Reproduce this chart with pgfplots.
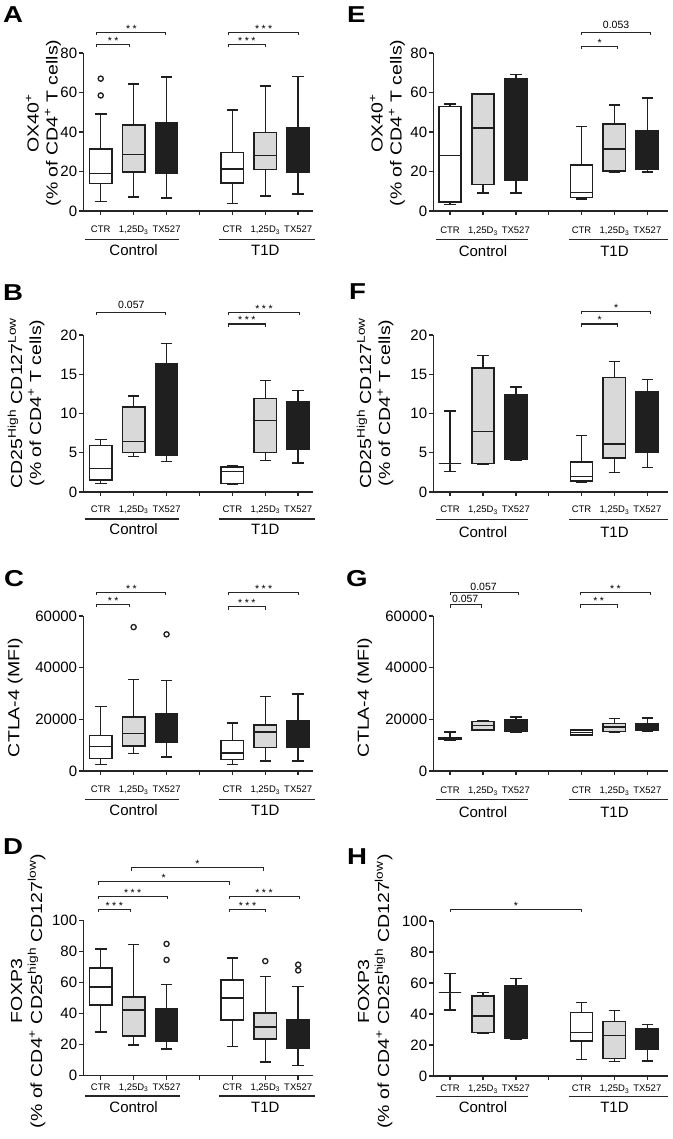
\documentclass[border=0pt]{standalone}
\usepackage{pgfplots}
\pgfplotsset{compat=1.18}
\usepgfplotslibrary{statistics}
\usepackage{fontspec}
\setmainfont{Liberation Sans}

\newcommand{\tickfont}{\fontsize{15}{15}\selectfont}
\newcommand{\catfont}{\fontsize{9.5}{10}\selectfont}
\newcommand{\grpfont}{\fontsize{15}{15}\selectfont}
\newcommand{\sigfont}{\fontsize{10.5}{10.5}\selectfont}
\newcommand{\labfont}{\fontsize{16}{19}\selectfont}
\newcommand{\letfont}{\bfseries\fontsize{23}{23}\selectfont}

\pgfplotsset{
  panel/.style={scale only axis, axis lines*=left, clip=false, enlargelimits=false,
    axis line style={line width=1.5pt, black!85},
    every tick/.style={line width=1.4pt, black!85},
    tick align=outside, major tick length=4pt,
    xtick={1,2,3,4,5,6,7}, xticklabels={,,,,,,},
    scaled y ticks=false,
    yticklabel style={font=\tickfont, inner sep=2pt},
    boxplot/draw direction=y},
  bxbase/.style={black!88, solid, line width=1.5pt, mark=o, mark size=2.6pt,
    mark options={line width=1.3pt, solid, fill=none},
    boxplot/draw direction=y,
    boxplot/box extend=0.68, boxplot/whisker extend=0.35},
  bw/.style={bxbase, boxplot/every box/.style={fill=white}},
  bg/.style={bxbase, boxplot/every box/.style={fill=gray!30}},
  bk/.style={bxbase, boxplot/every box/.style={fill=black!88}},
}
\tikzset{ylab/.style={rotate=90, font=\labfont, anchor=center, inner sep=0pt}}

% box: style, position, lower whisker, lower quartile, median, upper quartile, upper whisker, outliers
\newcommand{\bx}[8]{\addplot[#1, boxplot prepared={draw position=#2, lower whisker=#3,
  lower quartile=#4, median=#5, upper quartile=#6, upper whisker=#7}] coordinates {#8};}

% category labels: label base, underline, group base, underline extents
\newcommand{\cats}[7]{%
  \node[font=\catfont, anchor=base] at ([yshift=-#1]axis cs:1,0) {CTR};
  \node[font=\catfont, anchor=base] at ([yshift=-#1]axis cs:2,0) {1,25D\textsubscript{3}};
  \node[font=\catfont, anchor=base] at ([yshift=-#1]axis cs:3,0) {TX527};
  \node[font=\catfont, anchor=base] at ([yshift=-#1]axis cs:5,0) {CTR};
  \node[font=\catfont, anchor=base] at ([yshift=-#1]axis cs:6,0) {1,25D\textsubscript{3}};
  \node[font=\catfont, anchor=base] at ([yshift=-#1]axis cs:7,0) {TX527};
  \draw[line width=1.4pt, black!85] ([yshift=-#2]axis cs:#4,0) -- ([yshift=-#2]axis cs:#5,0);
  \draw[line width=1.4pt, black!85] ([yshift=-#2]axis cs:#6,0) -- ([yshift=-#2]axis cs:#7,0);
  \node[font=\grpfont, anchor=base] at ([yshift=-#3]axis cs:2,0) {Control};
  \node[font=\grpfont, anchor=base] at ([yshift=-#3]axis cs:6,0) {T1D};
}

% bracket: x1, x2, xmid, y, label, label shift
\newcommand{\br}[6]{%
  \draw[line width=1.1pt, black!85] ([yshift=-3pt]axis cs:#1,#4) -- (axis cs:#1,#4) -- (axis cs:#2,#4) -- ([yshift=-3pt]axis cs:#2,#4);
  \node[font=\sigfont, anchor=base, inner sep=0pt] at ([yshift=#6]axis cs:#3,#4) {#5};
}
\newcommand{\sone}{*}
\newcommand{\stwo}{*\hspace{2.5pt}*}
\newcommand{\sthree}{*\hspace{2.5pt}*\hspace{2.5pt}*}

\begin{document}
\begin{tikzpicture}
\path[use as bounding box] (0,0) rectangle (672pt,1139pt);

% ---------------- A ----------------
\begin{axis}[panel, at={(83.3pt,928pt)}, anchor=south west, width=229.7pt, height=158pt,
  xmin=0.47, xmax=7.45, ymin=0, ymax=80, ytick={0,20,40,60,80}, yticklabels={0,20,40,60,80}]
\bx{bw}{1}{4.9}{13.9}{19}{31.4}{49}{(0,67) (0,58.5)}
\bx{bg}{2}{7.1}{19.8}{28.6}{43.6}{64.2}{}
\bx{bk}{3}{6.6}{19}{30}{44.7}{67.8}{}
\bx{bw}{5}{3.7}{14.2}{21.2}{29.5}{51.2}{}
\bx{bg}{6}{7.6}{21}{28}{39.7}{63.4}{}
\bx{bk}{7}{8.6}{19.8}{30}{41.9}{68.1}{}
\cats{22pt}{28.6pt}{44.7pt}{0.52}{3.38}{4.6}{7.5}
\br{0.88}{2.98}{1.93}{90.5}{\stwo}{0pt}
\br{0.88}{1.88}{1.38}{84.4}{\stwo}{0pt}
\br{4.88}{7.02}{5.95}{90.5}{\sthree}{0pt}
\br{4.88}{6.0}{5.44}{84.4}{\sthree}{0pt}
\node[ylab] at ([xshift=-39pt]axis description cs:0,0.557) {\scalebox{1.22}[1]{\begin{tabular}{@{}c@{}}OX40\textsuperscript{+}\\(\% of CD4\textsuperscript{+} T cells)\end{tabular}}};
\end{axis}

% ---------------- B ----------------
\begin{axis}[panel, at={(83.3pt,647pt)}, anchor=south west, width=229.7pt, height=157pt,
  xmin=0.47, xmax=7.45, ymin=0, ymax=20, ytick={0,5,10,15,20}, yticklabels={0,5,10,15,20}]
\bx{bw}{1}{1.1}{1.5}{3.0}{5.9}{6.7}{}
\bx{bg}{2}{4.5}{5.0}{6.4}{10.8}{12.2}{}
\bx{bk}{3}{3.9}{4.7}{10}{16.3}{18.9}{}
\bx{bw}{5}{1.0}{1.1}{2.6}{3.2}{3.3}{}
\bx{bg}{6}{4.0}{5.0}{9.1}{11.9}{14.2}{}
\bx{bk}{7}{3.7}{5.5}{9}{11.5}{12.9}{}
\cats{20.4pt}{27pt}{43pt}{0.52}{3.38}{4.6}{7.5}
\br{0.88}{2.98}{1.93}{22.9}{0.057}{3.5pt}
\br{4.88}{7.04}{5.96}{22.9}{\sthree}{0pt}
\br{4.88}{6.0}{5.44}{21.4}{\sthree}{0pt}
\node[ylab] at ([xshift=-56pt]axis description cs:0,0.567) {\scalebox{1.22}[1]{\begin{tabular}{@{}c@{}}CD25\textsuperscript{High} CD127\textsuperscript{Low}\\(\% of CD4\textsuperscript{+} T cells)\end{tabular}}};
\end{axis}

% ---------------- C (values in thousands of MFI) ----------------
\begin{axis}[panel, at={(83.3pt,368pt)}, anchor=south west, width=229.7pt, height=155pt,
  xmin=0.47, xmax=7.45, ymin=0, ymax=60, ytick={0,20,40,60}, yticklabels={0,20000,40000,60000}]
\bx{bw}{1}{2.6}{4.8}{9.5}{13.8}{25.0}{}
\bx{bg}{2}{6.7}{9.7}{14.5}{20.9}{35.5}{(0,55.7)}
\bx{bk}{3}{5.4}{11.0}{16.0}{22.2}{35.1}{(0,52.9)}
\bx{bw}{5}{2.5}{4.4}{7.0}{11.9}{18.6}{}
\bx{bg}{6}{3.9}{9.0}{15.1}{17.9}{28.9}{}
\bx{bk}{7}{3.9}{9.0}{14.0}{19.6}{29.9}{}
\cats{22pt}{28.6pt}{44.7pt}{0.52}{3.38}{4.6}{7.5}
\br{0.88}{2.98}{1.93}{69.2}{\stwo}{0pt}
\br{0.88}{1.88}{1.38}{64.5}{\stwo}{0pt}
\br{4.88}{7.02}{5.95}{69.2}{\sthree}{0pt}
\br{4.88}{6.0}{5.44}{63.6}{\sthree}{0pt}
\node[ylab] at ([xshift=-68pt]axis description cs:0,0.475) {\scalebox{1.22}[1]{CTLA-4 (MFI)}};
\end{axis}

% ---------------- D ----------------
\begin{axis}[panel, at={(83.3pt,63.5pt)}, anchor=south west, width=229.7pt, height=155pt,
  xmin=0.47, xmax=7.45, ymin=0, ymax=100, ytick={0,20,40,60,80,100}, yticklabels={0,20,40,60,80,100}]
\bx{bw}{1}{28}{45.6}{57}{69.2}{81.7}{}
\bx{bg}{2}{19.8}{25.4}{42.4}{50.5}{84.5}{}
\bx{bk}{3}{17.2}{22.2}{33}{43}{58.7}{(0,84.9) (0,74.6)}
\bx{bw}{5}{18.7}{35.9}{49.9}{61.7}{75.9}{}
\bx{bg}{6}{8.6}{23.7}{31.2}{40.2}{63.9}{(0,73.8)}
\bx{bk}{7}{6.5}{17.6}{27}{35.9}{57.4}{(0,71.5) (0,67.8)}
\cats{14.6pt}{20.5pt}{36.6pt}{0.52}{3.41}{4.6}{7.5}
\br{1.94}{5.94}{3.94}{134}{\sone}{0pt}
\br{0.92}{4.9}{2.91}{125}{\sone}{0pt}
\br{0.92}{3.02}{1.97}{115.7}{\sthree}{0pt}
\br{0.92}{1.91}{1.41}{107.1}{\sthree}{0pt}
\br{4.9}{7.03}{5.96}{115.7}{\sthree}{0pt}
\br{4.9}{6.02}{5.46}{107.1}{\sthree}{0pt}
\node[ylab] at ([xshift=-55pt]axis description cs:0,0.545) {\scalebox{1.22}[1]{\begin{tabular}{@{}c@{}}FOXP3\\(\% of CD4\textsuperscript{+} CD25\textsuperscript{high} CD127\textsuperscript{low})\end{tabular}}};
\end{axis}

% ---------------- E ----------------
\begin{axis}[panel, at={(433.3pt,928pt)}, anchor=south west, width=234.7pt, height=158pt,
  xmin=0.49, xmax=7.63, ymin=0, ymax=80, ytick={0,20,40,60,80}, yticklabels={0,20,40,60,80}]
\bx{bw}{1}{3.2}{4.6}{28}{52.9}{54.1}{}
\bx{bg}{2}{9.2}{13.4}{41.9}{59.2}{59.5}{}
\bx{bk}{3}{9.2}{15.6}{45}{67}{69}{}
\bx{bw}{5}{6.1}{6.8}{9.3}{23.2}{42.7}{}
\bx{bg}{6}{19.5}{20.2}{31.4}{44.1}{53.7}{}
\bx{bk}{7}{19.8}{21}{30}{40.7}{57.1}{}
\cats{22.7pt}{28.6pt}{45.4pt}{0.57}{3.36}{4.63}{7.63}
\br{5.0}{7.09}{6.05}{90.5}{0.053}{3.5pt}
\br{5.0}{6.1}{5.55}{83.5}{\sone}{0pt}
\node[ylab] at ([xshift=-45pt]axis description cs:0,0.557) {\scalebox{1.22}[1]{\begin{tabular}{@{}c@{}}OX40\textsuperscript{+}\\(\% of CD4\textsuperscript{+} T cells)\end{tabular}}};
\end{axis}

% ---------------- F ----------------
\begin{axis}[panel, at={(433.3pt,647pt)}, anchor=south west, width=234.7pt, height=157pt,
  xmin=0.49, xmax=7.63, ymin=0, ymax=20, ytick={0,5,10,15,20}, yticklabels={0,5,10,15,20}]
\bx{bw}{1}{2.6}{3.6}{3.6}{3.6}{10.3}{}
\bx{bg}{2}{3.5}{3.6}{7.7}{15.8}{17.4}{}
\bx{bk}{3}{4.1}{4.2}{8}{12.4}{13.4}{}
\bx{bw}{5}{1.3}{1.4}{2.0}{3.8}{7.2}{}
\bx{bg}{6}{2.5}{4.3}{6.1}{14.6}{16.6}{}
\bx{bk}{7}{3.1}{5.0}{8}{12.8}{14.3}{}
\cats{21pt}{27.7pt}{45.4pt}{0.57}{3.36}{4.63}{7.63}
\br{5.0}{7.09}{6.05}{23.0}{\sone}{0pt}
\br{5.0}{6.1}{5.55}{21.4}{\sone}{0pt}
\node[ylab] at ([xshift=-57pt]axis description cs:0,0.567) {\scalebox{1.22}[1]{\begin{tabular}{@{}c@{}}CD25\textsuperscript{High} CD127\textsuperscript{Low}\\(\% of CD4\textsuperscript{+} T cells)\end{tabular}}};
\end{axis}

% ---------------- G (values in thousands of MFI) ----------------
\begin{axis}[panel, at={(433.3pt,368pt)}, anchor=south west, width=234.7pt, height=155pt,
  xmin=0.49, xmax=7.63, ymin=0, ymax=60, ytick={0,20,40,60}, yticklabels={0,20000,40000,60000}]
\bx{bw}{1}{11.9}{12.3}{12.6}{13.0}{15.1}{}
\bx{bg}{2}{15.6}{15.8}{17.7}{19.1}{19.3}{}
\bx{bk}{3}{15.1}{15.5}{17.5}{19.7}{20.9}{}
\bx{bw}{5}{13.7}{13.9}{14.9}{15.9}{16.1}{}
\bx{bg}{6}{14.9}{15.2}{17.0}{18.3}{20.3}{}
\bx{bk}{7}{15.3}{15.7}{17.0}{18.3}{20.5}{}
\cats{22.7pt}{28.6pt}{46.4pt}{0.57}{3.36}{4.63}{7.63}
\br{1.0}{3.08}{2.02}{69.2}{0.057}{2pt}
\br{1.0}{1.96}{1.46}{64.3}{0.057}{2pt}
\br{4.97}{7.1}{6.03}{69.2}{\stwo}{0pt}
\br{4.97}{6.08}{5.52}{64.3}{\stwo}{0pt}
\node[ylab] at ([xshift=-68.6pt]axis description cs:0,0.475) {\scalebox{1.22}[1]{CTLA-4 (MFI)}};
\end{axis}

% ---------------- H ----------------
\begin{axis}[panel, at={(433.3pt,63pt)}, anchor=south west, width=234.7pt, height=155pt,
  xmin=0.49, xmax=7.63, ymin=0, ymax=100, ytick={0,20,40,60,80,100}, yticklabels={0,20,40,60,80,100}]
\bx{bw}{1}{42.6}{53.8}{53.8}{53.8}{66.2}{}
\bx{bg}{2}{27.3}{28}{38.7}{51.6}{53.8}{}
\bx{bk}{3}{23.7}{24.1}{40}{58.5}{62.8}{}
\bx{bw}{5}{10.8}{22.6}{28}{40.9}{47.3}{}
\bx{bg}{6}{9.2}{11.4}{26.2}{35.1}{42.4}{}
\bx{bk}{7}{9.7}{17.2}{25}{30.8}{33.3}{}
\cats{15.7pt}{20.7pt}{36.1pt}{0.57}{3.36}{4.63}{7.63}
\br{1.0}{5.0}{3.0}{107.7}{\sone}{0pt}
\node[ylab] at ([xshift=-58pt]axis description cs:0,0.545) {\scalebox{1.22}[1]{\begin{tabular}{@{}c@{}}FOXP3\\(\% of CD4\textsuperscript{+} CD25\textsuperscript{high} CD127\textsuperscript{low})\end{tabular}}};
\end{axis}

% panel letters
\node[anchor=base west, font=\letfont, inner sep=0pt] at (3pt,1116pt) {\scalebox{1.2}[1]{A}};
\node[anchor=base west, font=\letfont, inner sep=0pt] at (3pt,838pt) {\scalebox{1.2}[1]{B}};
\node[anchor=base west, font=\letfont, inner sep=0pt] at (4pt,552pt) {\scalebox{1.2}[1]{C}};
\node[anchor=base west, font=\letfont, inner sep=0pt] at (3pt,284pt) {\scalebox{1.2}[1]{D}};
\node[anchor=base west, font=\letfont, inner sep=0pt] at (347pt,1116pt) {\scalebox{1.2}[1]{E}};
\node[anchor=base west, font=\letfont, inner sep=0pt] at (349pt,839pt) {\scalebox{1.2}[1]{F}};
\node[anchor=base west, font=\letfont, inner sep=0pt] at (346pt,552pt) {\scalebox{1.2}[1]{G}};
\node[anchor=base west, font=\letfont, inner sep=0pt] at (347pt,274pt) {\scalebox{1.2}[1]{H}};
\end{tikzpicture}
\end{document}
